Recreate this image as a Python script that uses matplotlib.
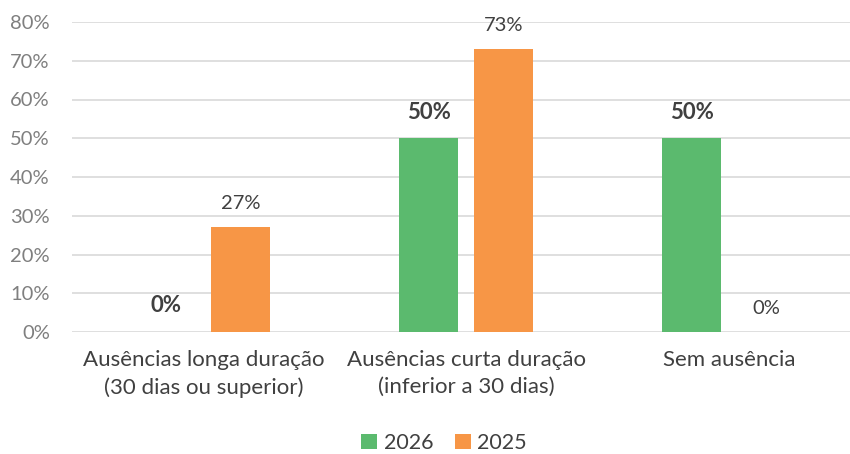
import matplotlib
matplotlib.use("Agg")
import matplotlib.pyplot as plt
import numpy as np

plt.rcParams['font.family'] = ['Lato', 'DejaVu Sans']

categories = ["Ausências longa duração\n(30 dias ou superior)",
              "Ausências curta duração\n(inferior a 30 dias)",
              "Sem ausência"]
series_names = ["2026", "2025"]
values_2026 = [0.0, 0.50, 0.50]
values_2025 = [0.27, 0.73, 0.0]
y_ticks = [0, 0.1, 0.2, 0.3, 0.4, 0.5, 0.6, 0.7, 0.8]

green = "#5BBA6E"
orange = "#F79646"

fig = plt.figure(figsize=(8.5, 4.54), dpi=100)
ax = fig.add_axes([72/850, (454-332)/454, 1 - 72/850, (332-22)/454])

x = np.arange(len(categories))
w = 0.224
off = 0.1426
b1 = ax.bar(x - off, values_2026, w, color=green, label=series_names[0], zorder=3)
b2 = ax.bar(x + off, values_2025, w, color=orange, label=series_names[1], zorder=3)

for xi, v in zip(x - off, values_2026):
    ax.annotate(f"{v*100:.0f}%", (xi, v), xytext=(0, 26), textcoords="offset pixels",
                ha="center", va="center", fontsize=16, fontweight="bold", color="#404040")
for xi, v in zip(x + off, values_2025):
    ax.annotate(f"{v*100:.0f}%", (xi, v), xytext=(0, 24), textcoords="offset pixels",
                ha="center", va="center", fontsize=14.5, color="#404040")

ax.set_ylim(0, 0.8)
ax.set_xlim(-0.5, 2.5 - (860.5 - 850) / 263)
ax.set_yticks(y_ticks)
ax.set_yticklabels([f"{t*100:.0f}%" for t in y_ticks], fontsize=14.5, color="#7F7F7F")
ax.set_xticks(x)
ax.set_xticklabels(categories, fontsize=16, color="#404040", linespacing=1.45)
ax.tick_params(axis='both', length=0)
ax.tick_params(axis='y', pad=16)
ax.tick_params(axis='x', pad=13)
ax.grid(axis='y', color="#D9D9D9", linewidth=1.2, zorder=0)
for s in ax.spines.values():
    s.set_visible(False)

leg = fig.legend(handles=[b1, b2], labels=series_names, loc="center",
                 bbox_to_anchor=(444/850, 1 - 443/454), ncol=2, frameon=False,
                 fontsize=15.5, handlelength=0.75, handleheight=0.75, handletextpad=0.3,
                 columnspacing=1.0, labelcolor="#404040")

fig.savefig("out.png", dpi=100)
